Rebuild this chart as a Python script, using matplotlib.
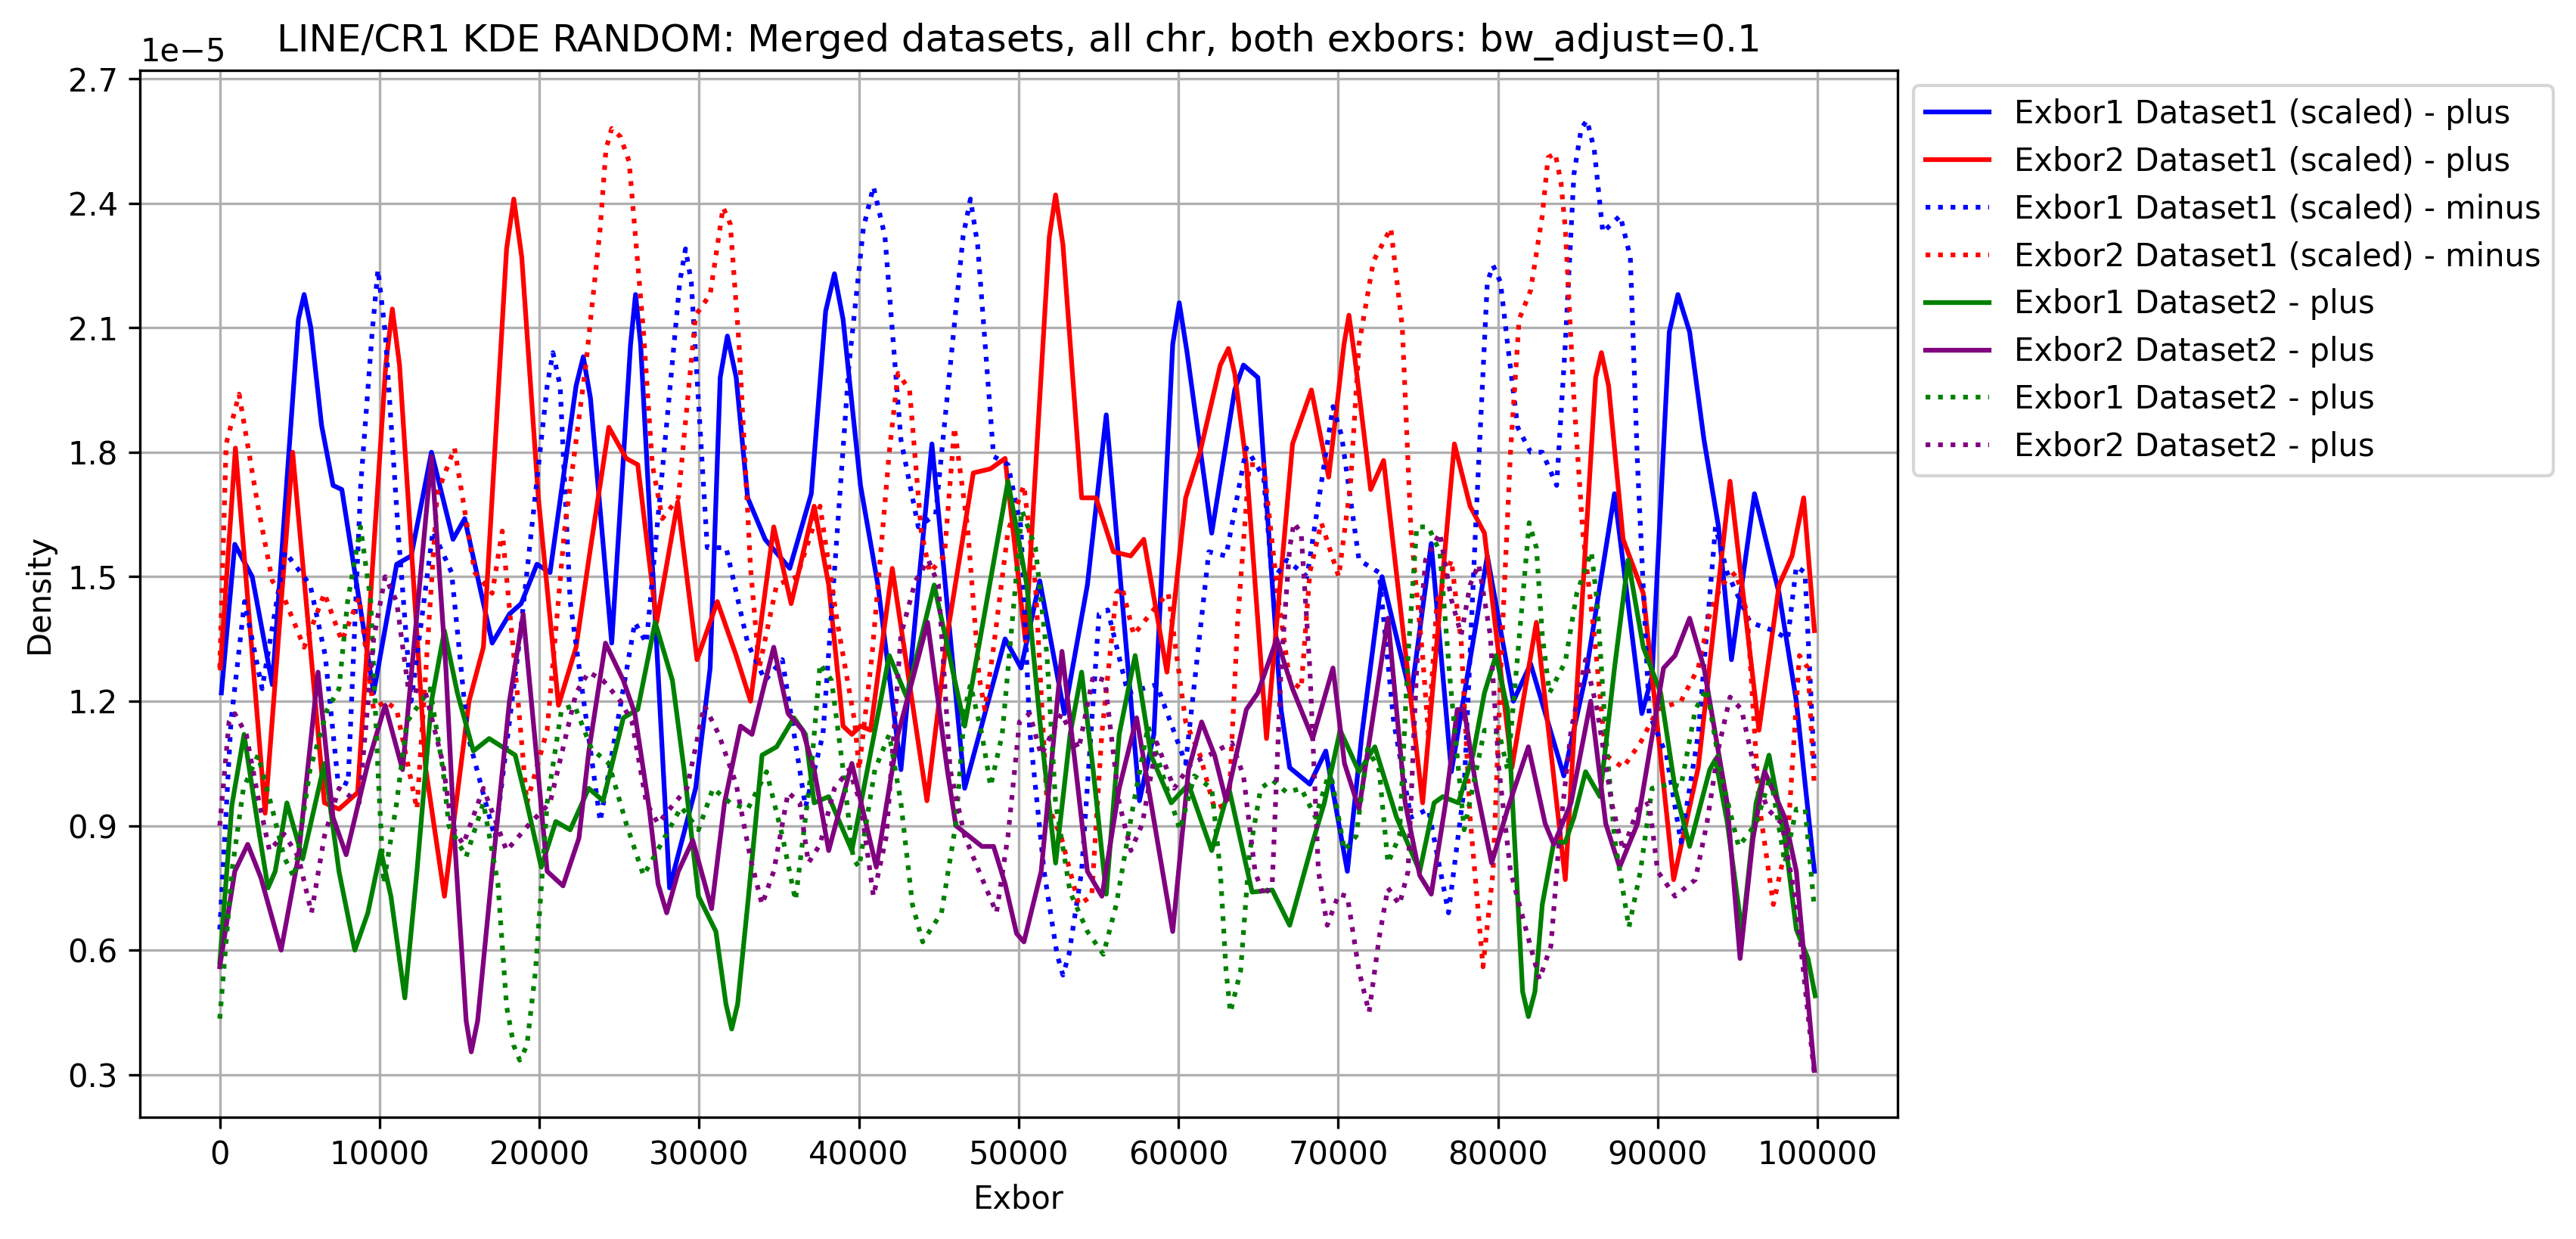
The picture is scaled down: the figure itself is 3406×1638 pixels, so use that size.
import numpy as np
import matplotlib
matplotlib.use("Agg")
import matplotlib.pyplot as plt

# values, density in units of 1e-5
b1p_x = [100, 940, 2030, 3290, 4920, 5280, 5700, 6370, 7090, 7640, 9630, 11070, 11980, 13250, 14600,
         15330, 17050, 18130, 18860, 19850, 20670, 22300, 22750, 23200, 24530, 25710, 26020, 26340, 28150,
         29780, 30690, 31320, 31770, 32320, 33040, 34130, 35670, 37020, 37920, 38470, 39010, 40100, 41190,
         42630, 44570, 46620, 49150, 50150, 51320, 52860, 54300, 55480, 57560, 58460, 59640, 60050, 60540,
         62080, 63520, 64070, 64970, 66420, 66960, 68220, 69220, 70570, 71480, 72740, 74550, 75820, 77080,
         79330, 80960, 82040, 84120, 85480, 87290, 89000, 89640, 90720, 91260, 91990, 92890, 93800, 94610,
         96050, 97590, 98670, 99800]
b1p_y = [1.22, 1.578, 1.50, 1.24, 2.12, 2.18, 2.10, 1.865, 1.72, 1.71, 1.22, 1.53, 1.55, 1.80, 1.59,
         1.64, 1.34, 1.41, 1.435, 1.53, 1.51, 1.96, 2.03, 1.93, 1.34, 2.06, 2.18, 2.06, 0.75,
         0.99, 1.28, 1.98, 2.08, 1.98, 1.69, 1.59, 1.52, 1.70, 2.14, 2.23, 2.12, 1.72, 1.48,
         1.035, 1.82, 0.99, 1.35, 1.28, 1.49, 1.17, 1.48, 1.89, 0.96, 1.12, 2.06, 2.16, 2.04,
         1.605, 1.95, 2.01, 1.98, 1.18, 1.04, 1.00, 1.08, 0.79, 1.12, 1.50, 1.21, 1.58, 1.03,
         1.55, 1.20, 1.29, 1.02, 1.26, 1.70, 1.17, 1.26, 2.09, 2.18, 2.09, 1.83, 1.62, 1.30,
         1.70, 1.46, 1.20, 0.79]

r1p_x = [40, 980, 2840, 4560, 6550, 7460, 8630, 10390, 10800, 11250, 12880, 14060, 15600, 16500, 17950,
         18400, 18900, 19940, 21200, 22300, 23090, 24350, 25440, 26160, 27340, 28660, 29870, 31140, 32320,
         33220, 34670, 35760, 37200, 38110, 39010, 39560, 40100, 40730, 42090, 44260, 45530, 47160, 48240,
         49150, 50420, 51920, 52310, 52770, 53940, 54840, 55930, 57010, 57830, 59280, 60450, 61350, 62620,
         63130, 63520, 64250, 65510, 67140, 68320, 69400, 70360, 70670, 71030, 72030, 72840, 75280, 77270,
         78250, 79150, 80870, 82400, 84210, 86110, 86470, 86920, 87830, 89090, 90990, 92530, 94520, 96330,
         97590, 98400, 99130, 99800]
r1p_y = [1.28, 1.81, 0.93, 1.80, 0.955, 0.94, 0.98, 2.01, 2.145, 2.01, 1.04, 0.73, 1.20, 1.33, 2.29,
         2.41, 2.27, 1.69, 1.19, 1.33, 1.54, 1.86, 1.785, 1.77, 1.39, 1.68, 1.30, 1.44, 1.31,
         1.20, 1.62, 1.435, 1.67, 1.48, 1.14, 1.12, 1.14, 1.13, 1.52, 0.96, 1.36, 1.75, 1.76,
         1.785, 1.345, 2.32, 2.42, 2.30, 1.69, 1.69, 1.56, 1.55, 1.59, 1.27, 1.69, 1.80, 2.01,
         2.05, 1.99, 1.77, 1.11, 1.82, 1.95, 1.74, 2.06, 2.13, 2.03, 1.71, 1.78, 0.955, 1.82,
         1.67, 1.605, 1.04, 1.39, 0.77, 1.98, 2.04, 1.96, 1.59, 1.46, 0.77, 1.04, 1.73, 1.13,
         1.48, 1.55, 1.69, 1.37]

b1m_x = [0, 700, 1550, 2650, 4080, 5660, 6600, 7390, 8030, 8820, 9540, 9900, 10350, 11170, 11980,
         13340, 14510, 15510, 17230, 18770, 20490, 20850, 21300, 21930, 23810, 25980, 26700, 28790, 29150,
         29510, 30510, 31690, 33040, 34130, 35210, 36660, 37750, 39380, 40280, 40910, 41630, 42630, 43720,
         44800, 46520, 46980, 47430, 48430, 49330, 50140, 50690, 51590, 52400, 52770, 53150, 53940, 55030,
         55570, 56830, 58640, 60450, 61900, 62980, 64250, 65330, 65880, 66780, 68050, 69670, 70210, 71300,
         72560, 73470, 74550, 75640, 76900, 77880, 78600, 79330, 79690, 80150, 80600, 81230, 82040, 82770,
         83670, 84210, 84750, 85210, 85570, 86020, 86560, 87650, 88280, 88730, 89460, 90540, 91450, 92530,
         93610, 94340, 95780, 97230, 98130, 98670, 99210, 99800]
b1m_y = [0.65, 1.15, 1.44, 1.23, 1.56, 1.48, 1.31, 1.01, 1.00, 1.72, 2.09, 2.24, 2.09, 1.605, 1.20,
         1.61, 1.51, 1.12, 0.87, 1.35, 1.96, 2.04, 1.96, 1.44, 0.91, 1.39, 1.34, 2.21, 2.29,
         2.21, 1.57, 1.57, 1.34, 1.25, 1.30, 0.945, 1.12, 2.01, 2.34, 2.44, 2.32, 1.83, 1.62,
         1.65, 2.32, 2.41, 2.30, 1.79, 1.77, 1.62, 1.13, 0.79, 0.59, 0.54, 0.59, 0.79, 1.41,
         1.42, 1.22, 1.24, 1.05, 1.56, 1.55, 1.81, 1.74, 1.49, 1.54, 1.50, 1.91, 1.84, 1.54,
         1.51, 1.15, 0.92, 0.94, 0.69, 0.99, 1.62, 2.21, 2.25, 2.21, 2.06, 1.86, 1.80, 1.80,
         1.72, 2.06, 2.47, 2.58, 2.60, 2.53, 2.33, 2.37, 2.27, 1.77, 1.17, 1.07, 0.86, 1.12,
         1.62, 1.51, 1.39, 1.37, 1.35, 1.525, 1.51, 1.04]

r1m_x = [0, 400, 1210, 2390, 3290, 4020, 5280, 6550, 7640, 8720, 9630, 10350, 11070, 12340, 13610,
         14690, 15960, 17050, 17680, 18670, 19220, 20490, 21570, 22910, 23810, 24170, 24530, 25080, 25620,
         26520, 27070, 27700, 28700, 29780, 30690, 31500, 31950, 32500, 33220, 33760, 34850, 36120, 37570,
         38650, 39740, 40010, 40820, 41900, 42450, 43170, 43900, 44440, 45350, 45980, 46800, 47520, 47880,
         48430, 49330, 50330, 51050, 51770, 52680, 53760, 54570, 55200, 56110, 56470, 57200, 58640, 59360,
         60450, 61350, 62260, 63160, 63700, 64430, 65330, 66240, 66960, 67680, 68220, 68940, 70030, 70760,
         71300, 72200, 73290, 74010, 74550, 75280, 75640, 76180, 77080, 77700, 78250, 79060, 79690, 80240,
         80780, 81320, 82040, 82770, 83130, 83580, 83940, 84210, 84750, 85300, 86020, 86740, 87830, 88910,
         89990, 91450, 92530, 93250, 93970, 94880, 95600, 96330, 97230, 98130, 98860, 99400, 99800]
r1m_y = [1.28, 1.82, 1.94, 1.67, 1.49, 1.45, 1.33, 1.46, 1.345, 1.45, 1.18, 1.20, 1.18, 0.94, 1.70,
         1.81, 1.51, 1.46, 1.61, 1.20, 0.955, 1.13, 1.61, 2.01, 2.34, 2.53, 2.58, 2.56, 2.50,
         2.09, 1.77, 1.64, 1.69, 2.13, 2.18, 2.39, 2.35, 2.06, 1.52, 1.28, 1.48, 1.50, 1.67,
         1.39, 1.15, 1.035, 1.31, 1.80, 1.99, 1.95, 1.61, 1.51, 1.55, 1.86, 1.62, 1.26, 1.18,
         1.33, 1.61, 1.72, 1.48, 0.955, 0.87, 0.71, 0.73, 1.12, 1.46, 1.475, 1.36, 1.43, 1.46,
         1.15, 1.07, 0.94, 0.955, 1.39, 1.77, 1.77, 1.45, 1.25, 1.23, 1.51, 1.63, 1.50, 1.72,
         2.06, 2.26, 2.34, 2.10, 1.61, 1.31, 1.12, 1.44, 1.54, 1.34, 0.92, 0.56, 0.79, 1.34,
         1.80, 2.12, 2.19, 2.37, 2.51, 2.52, 2.45, 2.34, 1.93, 1.61, 1.36, 1.07, 1.04, 1.10,
         1.18, 1.20, 1.28, 1.41, 1.48, 1.51, 1.41, 0.955, 0.71, 0.87, 1.31, 1.28, 0.99]

g2p_x = [0, 760, 1520, 2390, 3020, 3470, 4200, 5190, 6550, 7460, 8450, 9270, 10080, 10710, 11580,
         12340, 13250, 14060, 14870, 15870, 16860, 18490, 19220, 20120, 21030, 21930, 23090, 23990, 25260,
         26160, 27250, 28330, 29060, 29960, 31050, 31680, 32040, 32410, 33040, 33940, 34850, 35930, 36660,
         37200, 38110, 39560, 41900, 42990, 44710, 46620, 49330, 50510, 51410, 52310, 53220, 53940, 54660,
         55480, 56290, 57290, 58280, 59550, 60630, 62080, 63160, 64610, 65870, 66960, 68400, 69130, 70120,
         71300, 72290, 73650, 75100, 76000, 76540, 77520, 78430, 79150, 79870, 80600, 81140, 81540, 81900,
         82310, 82770, 83490, 84210, 84750, 85480, 86380, 87290, 88140, 89090, 90180, 91080, 91990, 93250,
         93610, 94340, 95280, 96150, 96960, 97950, 98670, 99400, 99850]
g2p_y = [0.57, 0.95, 1.12, 0.90, 0.75, 0.79, 0.955, 0.82, 1.05, 0.79, 0.60, 0.69, 0.84, 0.73, 0.485,
         0.79, 1.20, 1.37, 1.22, 1.08, 1.11, 1.07, 0.955, 0.80, 0.91, 0.89, 0.99, 0.96, 1.16,
         1.18, 1.39, 1.25, 1.035, 0.73, 0.645, 0.47, 0.41, 0.47, 0.71, 1.07, 1.09, 1.16, 1.12,
         0.955, 0.97, 0.84, 1.31, 1.21, 1.48, 1.14, 1.73, 1.48, 1.12, 0.81, 1.12, 1.27, 1.035,
         0.735, 1.12, 1.31, 1.07, 0.955, 1.00, 0.84, 0.99, 0.74, 0.745, 0.66, 0.86, 0.955, 1.13,
         1.03, 1.09, 0.92, 0.79, 0.955, 0.97, 0.955, 1.07, 1.22, 1.31, 1.18, 0.79, 0.50, 0.44,
         0.50, 0.71, 0.86, 0.86, 0.92, 1.03, 0.97, 1.28, 1.54, 1.33, 1.22, 0.99, 0.85, 1.035,
         1.06, 0.91, 0.64, 0.955, 1.07, 0.87, 0.65, 0.58, 0.49]

p2p_x = [0, 940, 1750, 2570, 3840, 4920, 6150, 7090, 7910, 9270, 10350, 11440, 13250, 14150, 14690,
         15420, 15740, 16140, 17050, 18130, 18990, 19940, 20490, 21480, 22480, 23100, 24140, 25260, 25980,
         26880, 27430, 27970, 28700, 29600, 30140, 30780, 31590, 32590, 33310, 34670, 35570, 36480, 37200,
         38110, 39560, 41090, 42450, 44300, 45530, 46070, 47700, 48430, 49150, 49870, 50330, 51410, 52710,
         53580, 54300, 55210, 56290, 57380, 58280, 59640, 60630, 61450, 62260, 62980, 64250, 64970, 66150,
         67140, 68400, 69670, 70390, 71300, 73110, 74190, 75100, 75820, 76720, 77450, 77880, 78600, 79600,
         80600, 81900, 82950, 83490, 84570, 85800, 86740, 87610, 88730, 90360, 91080, 91990, 92890, 94340,
         95150, 95960, 96690, 97950, 98670, 99800]
p2p_y = [0.56, 0.79, 0.855, 0.775, 0.60, 0.825, 1.27, 0.92, 0.83, 1.05, 1.19, 1.035, 1.79, 1.28, 0.87,
         0.43, 0.355, 0.43, 0.79, 1.20, 1.41, 1.02, 0.79, 0.755, 0.87, 1.08, 1.34, 1.25, 1.17,
         0.94, 0.76, 0.69, 0.79, 0.865, 0.79, 0.70, 0.955, 1.14, 1.12, 1.33, 1.17, 1.13, 1.035,
         0.84, 1.05, 0.80, 1.12, 1.39, 1.035, 0.90, 0.85, 0.85, 0.76, 0.64, 0.62, 0.79, 1.32,
         1.035, 0.79, 0.73, 0.99, 1.16, 0.955, 0.645, 1.035, 1.15, 1.07, 0.96, 1.18, 1.22, 1.35,
         1.23, 1.11, 1.28, 1.05, 0.94, 1.40, 0.955, 0.78, 0.735, 0.955, 1.18, 1.18, 1.00, 0.81,
         0.94, 1.09, 0.905, 0.855, 0.955, 1.20, 0.905, 0.80, 0.905, 1.28, 1.31, 1.40, 1.28, 0.955,
         0.58, 0.87, 1.03, 0.92, 0.79, 0.31]

g2d_x = [0, 760, 1480, 2390, 3290, 4020, 4650, 5650, 6730, 7460, 8000, 8810, 9450, 9900, 10260,
         11070, 11710, 13160, 13970, 14330, 15420, 16500, 17410, 17950, 18400, 18770, 19220, 19760, 20490,
         21390, 22200, 23270, 24350, 25440, 26520, 27610, 28880, 29960, 30870, 31950, 33040, 34220, 35210,
         36030, 37020, 37570, 38290, 39010, 39650, 40010, 41000, 41900, 42630, 43350, 43990, 45170, 46070,
         46620, 46980, 47700, 48240, 48970, 49870, 50200, 51050, 51770, 52310, 53220, 54300, 55300, 56110,
         57200, 58100, 59190, 60090, 61000, 62080, 62620, 62980, 63250, 63890, 64430, 65150, 65870, 66780,
         67680, 68580, 69490, 70390, 71120, 71840, 72560, 73110, 73830, 74370, 74910, 75640, 76360, 77000,
         77880, 79150, 80060, 80600, 81230, 81950, 82400, 82770, 83220, 84210, 84930, 85840, 86200, 86740,
         87290, 88190, 88910, 89640, 90720, 91450, 92350, 93070, 93970, 95060, 96150, 97050, 97950, 98670,
         99220, 99800]
g2d_y = [0.435, 0.79, 0.99, 1.07, 0.94, 0.825, 0.775, 1.035, 1.18, 1.23, 1.44, 1.62, 1.44, 1.035, 0.76,
         0.955, 1.15, 1.23, 1.035, 0.90, 0.825, 0.955, 0.76, 0.465, 0.37, 0.335, 0.37, 0.55, 0.955,
         1.18, 1.19, 1.085, 1.05, 0.905, 0.78, 0.855, 0.945, 0.89, 0.99, 0.955, 0.94, 1.03, 0.875,
         0.72, 1.035, 1.29, 1.25, 1.035, 0.82, 0.80, 1.035, 1.12, 0.955, 0.71, 0.62, 0.69, 0.905,
         1.18, 1.24, 1.12, 0.995, 1.12, 1.51, 1.66, 1.57, 1.31, 0.955, 0.74, 0.645, 0.59, 0.71,
         0.955, 1.14, 1.00, 0.89, 1.02, 0.99, 0.79, 0.55, 0.45, 0.55, 0.83, 0.99, 1.01, 0.98,
         0.99, 0.92, 1.035, 0.84, 0.875, 1.085, 1.035, 0.81, 0.875, 1.31, 1.62, 1.62, 1.56, 1.25,
         0.89, 1.13, 1.125, 1.035, 1.31, 1.63, 1.57, 1.36, 1.22, 1.295, 1.46, 1.56, 1.44, 1.12,
         0.87, 0.655, 0.79, 0.99, 1.00, 0.995, 1.18, 1.23, 1.02, 0.85, 0.905, 1.02, 0.81, 0.94,
         0.94, 0.70]

p2d_x = [0, 580, 940, 1660, 2390, 3110, 4020, 4920, 5740, 6550, 7460, 8720, 9630, 10350, 11070,
         11800, 12880, 13970, 14510, 15240, 16500, 17950, 19400, 20670, 22300, 23090, 23990, 25080, 25800,
         26700, 27430, 28150, 29240, 30330, 31230, 32320, 33220, 33940, 34670, 35570, 36300, 36840, 37570,
         38470, 39380, 40100, 40910, 41720, 42630, 43540, 44350, 44980, 45710, 46620, 47520, 48610, 49330,
         50050, 50690, 51410, 52680, 53760, 54660, 55390, 56290, 57020, 57740, 58640, 59730, 60810, 61900,
         63340, 64070, 64790, 65330, 65870, 66420, 66960, 67230, 67680, 68220, 68760, 69310, 70030, 70570,
         71300, 71930, 72560, 73110, 73830, 74370, 74910, 75460, 76360, 77080, 77700, 78250, 78790, 79510,
         80060, 80780, 81680, 82590, 83310, 83850, 84570, 85480, 86200, 87110, 87830, 88730, 89460, 89990,
         91080, 92350, 93070, 93790, 94520, 95240, 96150, 96870, 97770, 98670, 99800]
p2d_y = [0.90, 1.15, 1.17, 1.12, 0.97, 0.84, 0.88, 0.825, 0.69, 0.875, 0.99, 0.955, 1.35, 1.50, 1.44,
         1.23, 1.22, 1.05, 0.90, 0.855, 0.99, 0.84, 0.905, 0.955, 1.22, 1.27, 1.25, 1.20, 1.15,
         0.955, 0.905, 0.94, 0.99, 1.19, 1.12, 1.00, 0.82, 0.71, 0.79, 0.98, 0.955, 0.81, 0.855,
         0.99, 1.035, 0.955, 0.73, 0.875, 1.36, 1.49, 1.54, 1.48, 1.035, 0.875, 0.79, 0.69, 0.875,
         1.15, 1.17, 1.07, 1.17, 1.085, 1.26, 1.25, 0.955, 0.84, 0.905, 1.10, 0.99, 1.05, 1.07,
         1.10, 1.02, 0.79, 0.73, 0.76, 1.28, 1.57, 1.63, 1.605, 1.28, 0.79, 0.66, 0.735, 0.73,
         0.55, 0.45, 0.63, 0.75, 0.71, 0.79, 1.28, 1.54, 1.605, 1.445, 1.36, 1.48, 1.53, 1.36,
         1.035, 0.79, 0.66, 0.53, 0.61, 0.875, 1.13, 1.30, 1.18, 0.955, 0.84, 0.94, 0.955, 0.79,
         0.73, 0.77, 0.905, 1.085, 1.21, 1.18, 1.02, 0.94, 0.905, 0.71, 0.30]

series = [
    (b1p_x, b1p_y, "blue", "-", "Exbor1 Dataset1 (scaled) - plus"),
    (r1p_x, r1p_y, "red", "-", "Exbor2 Dataset1 (scaled) - plus"),
    (b1m_x, b1m_y, "blue", ":", "Exbor1 Dataset1 (scaled) - minus"),
    (r1m_x, r1m_y, "red", ":", "Exbor2 Dataset1 (scaled) - minus"),
    (g2p_x, g2p_y, "green", "-", "Exbor1 Dataset2 - plus"),
    (p2p_x, p2p_y, "purple", "-", "Exbor2 Dataset2 - plus"),
    (g2d_x, g2d_y, "green", ":", "Exbor1 Dataset2 - plus"),
    (p2d_x, p2d_y, "purple", ":", "Exbor2 Dataset2 - plus"),
]

fig = plt.figure(figsize=(3406 / 300, 1638 / 300), dpi=300)
ax = fig.add_axes([0.0543, 0.0983, 0.6823, 0.8452])

for xs, ys, col, ls, lab in series:
    ax.plot(xs, np.array(ys) * 1e-5, color=col, linestyle=ls, linewidth=1.5, label=lab)

ax.set_xlim(-5000, 105000)
ax.set_ylim(0.1975e-5, 2.721e-5)
ax.set_xticks(np.arange(0, 100001, 10000))
ax.set_yticks(np.arange(0.3, 2.71, 0.3) * 1e-5)
ax.grid(True)
ax.set_title("LINE/CR1 KDE RANDOM: Merged datasets, all chr, both exbors: bw_adjust=0.1")
ax.set_xlabel("Exbor")
ax.set_ylabel("Density")
ax.legend(loc="upper left", bbox_to_anchor=(1, 1))

fig.savefig("out.png", dpi=300)
